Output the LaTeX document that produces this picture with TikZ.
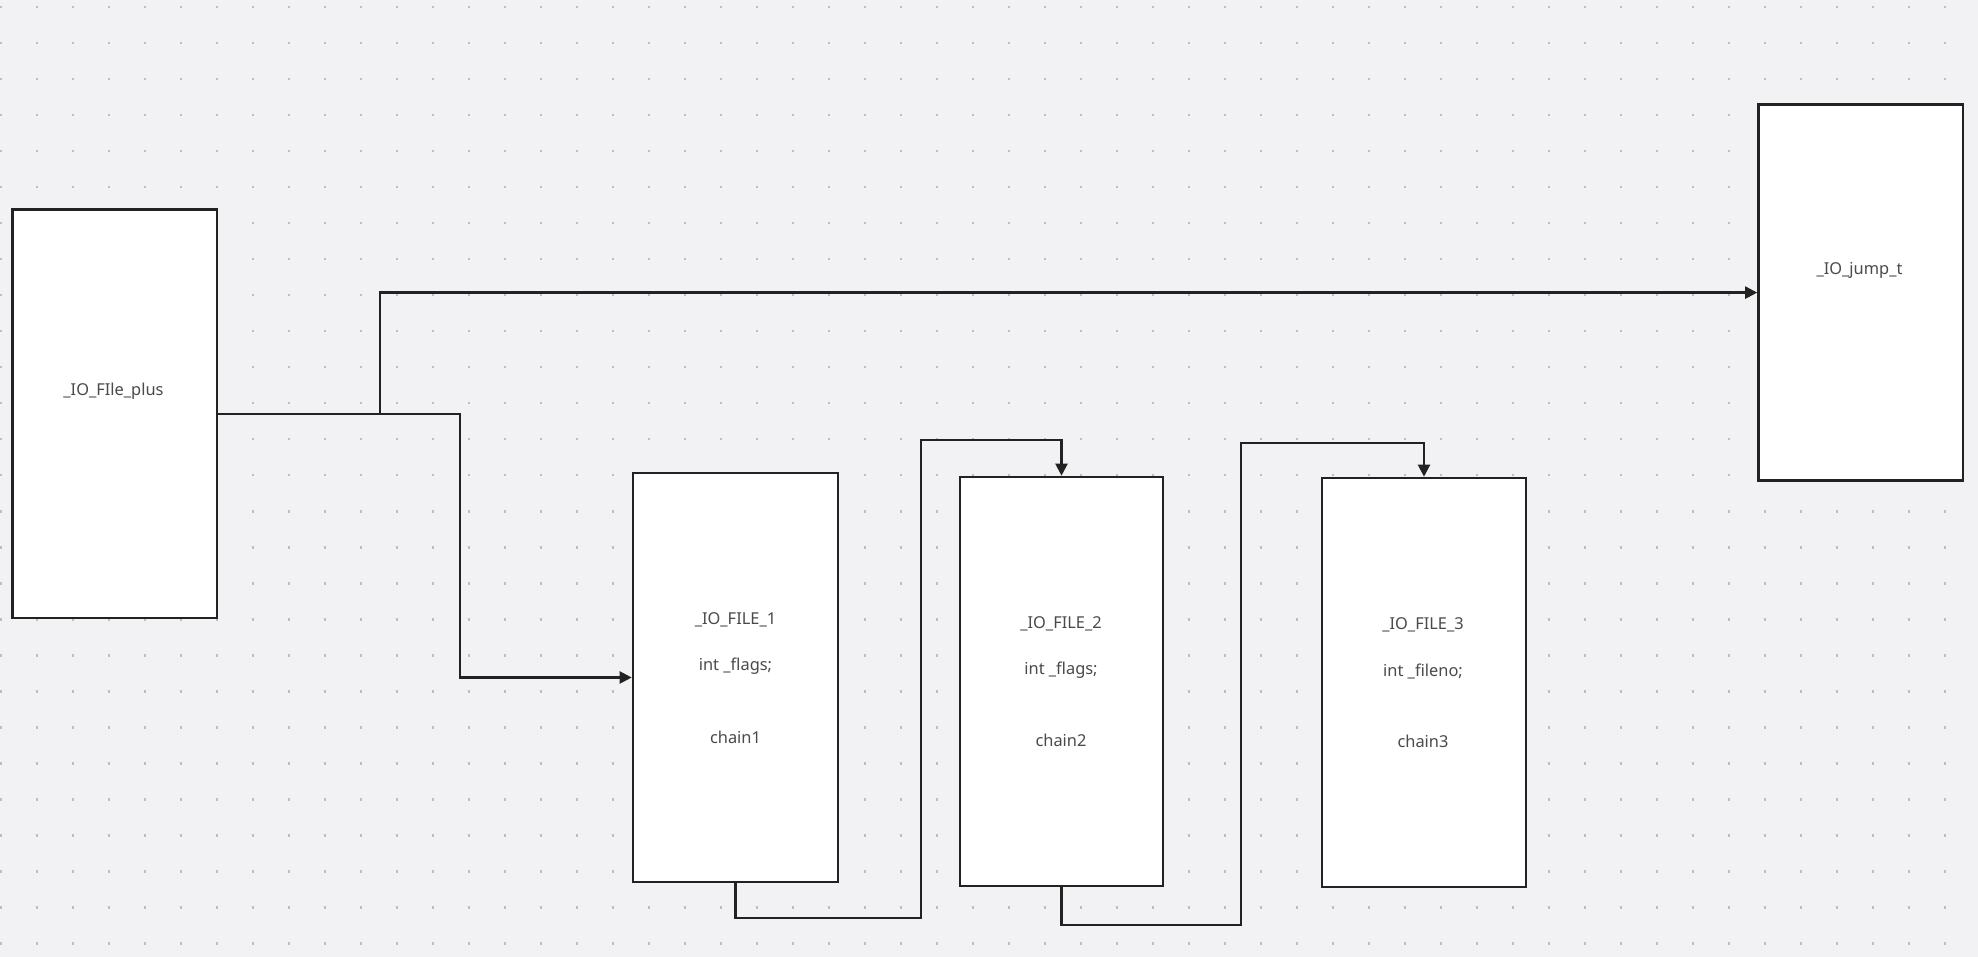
\documentclass[tikz,border=0pt]{standalone}
\usepackage{fontspec}
\setmainfont{Noto Sans}
\usetikzlibrary{positioning,arrows.meta,calc}
\definecolor{canvas}{HTML}{F2F2F4}
\definecolor{griddot}{HTML}{BEBEC2}
\definecolor{ink}{HTML}{222222}
\definecolor{txt}{HTML}{4A4A4A}

\begin{document}
\begin{tikzpicture}[x=0.5pt,y=-0.5pt,
  box/.style={draw=ink, fill=white, line width=1.3pt, inner sep=0pt},
  lbl/.style={text=txt, font=\fontsize{8.2}{9}\selectfont, inner sep=0pt},
  link/.style={draw=ink, line width=1.1pt},
  arr/.style={link, -{Triangle[length=6pt,width=6pt]}}]
\fill[canvas] (0,0) rectangle (1978,957);
\useasboundingbox (0,0) rectangle (1978,957);
\foreach \i in {0,...,54}
  \foreach \j in {0,...,26}
    \fill[griddot] ({0.7+36*\i-1.2},{7.3+36*\j-1.2}) rectangle ++(2.4,2.4);
\node[box, minimum width=102.2pt, minimum height=204.3pt] (plus) at (114.8,413.7) {};
\node[box, minimum width=102.5pt, minimum height=204.5pt] (f1) at (735.5,677.5) {};
\node[box, minimum width=101.5pt, minimum height=204.5pt] (f2) at (1061.5,681.5) {};
\node[box, minimum width=102pt, minimum height=204.5pt] (f3) at (1424,682.5) {};
\node[box, minimum width=102.2pt, minimum height=188pt] (jump) at (1860.7,292.6) {};
\node[lbl] (plusname) at (113.5,391.5) {\_IO\_FIle\_plus};
\node[lbl] (f1name) at (735.5,619.5) {\_IO\_FILE\_1};
\node[lbl] (f1field) at (735.5,666.5) {int \_flags;};
\node[lbl] (f1chain) at (735.5,737) {chain1};
\node[lbl] (f2name) at (1061,623.5) {\_IO\_FILE\_2};
\node[lbl] (f2field) at (1061,670) {int \_flags;};
\node[lbl] (f2chain) at (1061,740.5) {chain2};
\node[lbl] (f3name) at (1423,624.5) {\_IO\_FILE\_3};
\node[lbl] (f3field) at (1423,671.5) {int \_fileno;};
\node[lbl] (f3chain) at (1423,741.8) {chain3};
\node[lbl] (jumpname) at (1859.5,270.5) {\_IO\_jump\_t};
\draw[arr] (plus.east) -- ++(161.5,0) |- (jump.west);
\draw[arr] (plus.east) -- ++(242,0) |- (f1.west);
\draw[arr] (f1.south) -- ++(0,35) -| (921,440) -| (f2.north);
\draw[arr] (f2.south) -- ++(0,38) -| (1241,443) -| (f3.north);
\end{tikzpicture}
\end{document}
